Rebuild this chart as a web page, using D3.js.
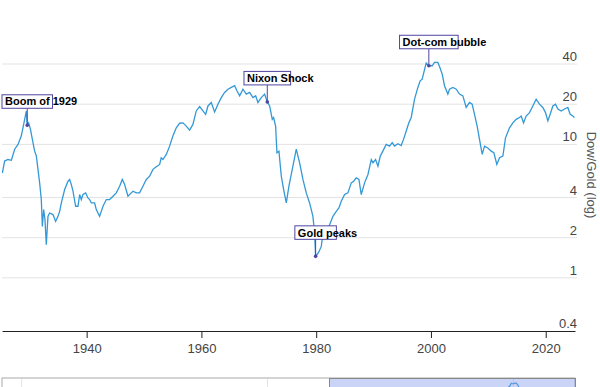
<!DOCTYPE html>
<html>
<head>
<meta charset="utf-8">
<script src="https://cdn.jsdelivr.net/npm/d3@7/dist/d3.min.js"></script>
<style>
body { margin: 0; background: #fff; }
svg { display: block; font-family: "Liberation Sans", Arial, sans-serif; }
.grid line { stroke: #e3e3e3; stroke-width: 1; }
.yLabel { font-size: 13px; fill: #444; }
.xAxis text { font-size: 13px; fill: #444; }
.xAxis path, .xAxis line { stroke: #222; }
.annotation text { font-size: 11px; font-weight: bold; fill: #000; }
.brush .selection { fill: #7b93ea; fill-opacity: 0.4; stroke: #888; }
</style>
</head>
<body>
<div class="chartContainer"></div>
<script>
// Dow / Gold ratio
var years = [1925.31, 1925.71, 1926.3, 1926.88, 1927.46, 1928.04, 1928.62, 1929.2, 1929.5, 1929.65,
  1929.9, 1930.2, 1930.65, 1930.94, 1931.23, 1931.52, 1931.81, 1932.1, 1932.28, 1932.51,
  1932.74, 1932.97, 1933.26, 1933.55, 1934.13, 1934.6, 1935.0, 1935.3, 1935.59, 1936.17,
  1936.75, 1937.04, 1937.33, 1937.62, 1938.08, 1938.49, 1938.78, 1939.07, 1939.36, 1939.83,
  1940.23, 1940.52, 1940.81, 1941.39, 1941.68, 1942.26, 1942.85, 1943.43, 1944.0, 1944.59,
  1945.17, 1945.75, 1946.21, 1946.62, 1947.2, 1947.78, 1948.07, 1948.65, 1949.23, 1949.81,
  1950.39, 1950.98, 1951.56, 1952.14, 1952.72, 1953.0, 1953.3, 1953.88, 1954.46, 1955.04,
  1955.62, 1956.2, 1956.78, 1957.36, 1957.94, 1958.52, 1959.1, 1959.69, 1960.27, 1960.74,
  1961.14, 1961.72, 1962.3, 1962.88, 1963.46, 1964.04, 1964.63, 1965.21, 1965.79, 1966.19,
  1966.66, 1967.24, 1967.82, 1968.4, 1968.98, 1969.45, 1969.85, 1970.43, 1971.01, 1971.48,
  1971.89, 1972.35, 1972.58, 1972.93, 1973.16, 1973.51, 1973.92, 1974.33, 1974.79, 1975.25,
  1975.83, 1976.53, 1977.11, 1977.69, 1978.27, 1978.85, 1979.43, 1979.72, 1979.9, 1980.13,
  1980.48, 1980.89, 1981.18, 1981.76, 1982.34, 1982.92, 1983.5, 1983.96, 1984.37, 1984.95,
  1985.53, 1986.11, 1986.52, 1986.98, 1987.45, 1987.85, 1988.43, 1989.02, 1989.6, 1989.89,
  1990.35, 1990.76, 1991.17, 1991.62, 1992.2, 1992.78, 1993.25, 1993.65, 1994.23, 1994.81,
  1995.22, 1995.69, 1996.15, 1996.56, 1997.14, 1997.72, 1998.12, 1998.47, 1998.76, 1999.17,
  1999.63, 2000.22, 2000.62, 2001.2, 2001.49, 2001.96, 2002.36, 2002.94, 2003.23, 2003.82,
  2004.4, 2004.98, 2005.56, 2006.14, 2006.72, 2007.18, 2007.59, 2008.05, 2008.46, 2008.93,
  2009.33, 2009.91, 2010.49, 2010.96, 2011.48, 2011.95, 2012.53, 2012.99, 2013.69, 2014.27,
  2014.85, 2015.43, 2015.72, 2016.13, 2016.59, 2017.17, 2017.75, 2018.33, 2018.91, 2019.49,
  2019.96, 2020.37, 2020.77, 2021.24, 2021.7, 2022.11, 2022.69, 2023.27, 2023.85, 2024.26,
  2024.72, 2025.0];
var ratio = [6.1, 7.5, 7.7, 7.6, 9.2, 10.0, 11.6, 15.4, 17.8, 13.9,
  14.5, 13.0, 10.3, 8.9, 8.2, 6.5, 5.15, 3.86, 2.43, 3.25,
  2.73, 1.77, 2.89, 3.06, 2.98, 2.65, 2.89, 3.15, 3.64, 4.59,
  5.3, 5.46, 5.0, 4.46, 3.44, 3.44, 4.21, 3.86, 4.21, 4.33,
  3.97, 3.86, 3.64, 3.64, 3.25, 2.89, 3.44, 3.86, 3.86, 4.09,
  4.33, 4.86, 5.46, 5.0, 4.09, 4.33, 4.46, 4.33, 4.33, 4.86,
  5.46, 5.78, 6.5, 6.8, 7.07, 7.94, 7.7, 8.41, 9.7, 11.6,
  13.3, 14.4, 14.5, 13.7, 12.8, 14.1, 17.8, 19.2, 17.8, 16.8,
  19.4, 20.6, 17.5, 20.0, 22.4, 24.5, 25.9, 26.7, 27.5, 25.2,
  23.1, 25.9, 23.8, 24.5, 22.4, 23.1, 20.6, 22.4, 23.8, 20.8,
  19.4, 15.4, 15.9, 13.7, 8.66, 8.9, 5.78, 4.59, 3.64, 4.86,
  6.5, 9.2, 7.28, 5.46, 4.33, 3.64, 2.89, 2.17, 1.45, 1.49,
  1.57, 1.72, 2.17, 2.17, 2.5, 2.89, 3.15, 3.34, 3.75, 4.21,
  4.33, 5.15, 5.3, 5.62, 5.46, 4.21, 5.15, 5.95, 7.7, 7.28,
  7.7, 6.87, 8.17, 8.9, 10.0, 9.7, 10.3, 9.7, 10.1, 9.8,
  10.9, 12.6, 14.5, 15.9, 21.8, 26.7, 29.9, 30.8, 34.6, 40.6,
  38.8, 38.8, 41.1, 41.1, 38.3, 33.6, 27.5, 23.8, 25.9, 26.7,
  25.9, 23.8, 23.1, 18.9, 20.6, 20.0, 16.8, 13.7, 10.9, 8.41,
  9.7, 9.4, 8.9, 8.66, 7.07, 7.94, 8.17, 11.2, 13.3, 14.5,
  15.4, 15.9, 16.3, 14.5, 16.3, 17.3, 19.4, 21.8, 20.0, 18.9,
  17.3, 15.0, 16.8, 19.4, 20.0, 18.4, 17.8, 18.4, 18.9, 16.8,
  16.3, 15.9];

var yTicks = [0.4, 1, 2, 4, 10, 20, 40];
var xTicks = [1940, 1960, 1980, 2000, 2020];

var annoLabels = ["Boom of 1929", "Nixon Shock", "Gold peaks", "Dot-com bubble"];
var annoYears = [1929.65, 1971.48, 1979.9, 1999.63];
var annoValues = [13.9, 20.8, 1.45, 38.8];

var viewYears = [1925.25, 2025.1];     // brushed window
var contextYears = [1792, 2025.1];     // full overview range
var contextGrid = [1800, 1900, 2000];

var width = 600;
var height = 387;
var left = 2, right = 575;
var data = years.map(function(d, i){ return {year: d, value: ratio[i]}; });

var svg = d3.select(".chartContainer")
  .append("svg")
    .attr("width", width)
    .attr("height", height);

// ======= scales ========

var x2 = d3.scaleLinear().domain(contextYears).range([left, right]);
var x = d3.scaleLinear().domain(viewYears).range([left, right]);
var y = d3.scaleLog().domain([0.4, 40]).range([331, 64]);

svg.append("defs").append("clipPath").attr("id", "clip")
  .append("rect").attr("x", left).attr("y", 0).attr("width", right - left).attr("height", 331);

// ======= grid + y labels ========

var grid = svg.append("g").attr("class", "grid");
grid.selectAll("line")
    .data(yTicks.slice(1))
  .enter().append("line")
    .attr("x1", left).attr("x2", 577)
    .attr("y1", function(d){ return y(d); })
    .attr("y2", function(d){ return y(d); });

svg.append("g").selectAll(".yLabel")
    .data(yTicks)
  .enter().append("text")
    .attr("class", "yLabel")
    .attr("x", 577)
    .attr("y", function(d){ return y(d) - 3; })
    .attr("text-anchor", "end")
    .text(function(d){ return d; });

svg.append("text")
    .attr("transform", "translate(587,175) rotate(90)")
    .attr("text-anchor", "middle")
    .style("font-size", "13px")
    .style("fill", "#555")
    .text("Dow/Gold (log)");

// ======= x axis ========

svg.append("g")
    .attr("class", "xAxis")
    .attr("transform", "translate(0,331)")
    .call(d3.axisBottom(x).tickValues(xTicks).tickFormat(d3.format("d"))
      .tickSize(7).tickSizeOuter(0).tickPadding(6));

// ======= line ========

var line = d3.line()
    .x(function(d){ return x(d.year); })
    .y(function(d){ return y(d.value); });

svg.append("path")
    .datum(data)
    .attr("clip-path", "url(#clip)")
    .attr("d", line)
    .style("fill", "none")
    .style("stroke", "#3399d6")
    .style("stroke-width", 1.3);

// ======= annotations ========

var annos = svg.selectAll(".annotation")
    .data(annoLabels)
  .enter().append("g")
    .attr("class", "annotation")
    .attr("transform", function(d, i){
      return "translate(" + x(annoYears[i]) + "," + y(annoValues[i]) + ")";
    });

annos.append("line")
    .attr("x1", 0).attr("y1", 0)
    .attr("x2", 0).attr("y2", -17)
    .style("stroke", "#4f46a0");

annos.append("circle")
    .attr("r", 1.8)
    .style("fill", "#4f46a0");

annos.each(function(d){
  var g = d3.select(this);
  var box = g.append("rect");
  var t = g.append("text").text(d);
  var w = t.node().getComputedTextLength() * 0.7;
  box.attr("x", -w / 2).attr("y", -30.5)
    .attr("width", w).attr("height", 13.5)
    .style("fill", "#fff")
    .style("stroke", "#4f46a0");
  t.attr("x", -w / 2 + 3).attr("y", -19.8);
});

// ======= context + brush ========

var contextH = 60;
var y2 = d3.scaleLog().domain([0.4, 45]).range([contextH, 4]);

var context = svg.append("g").attr("class", "context").attr("transform", "translate(0,378)");

context.append("rect")
    .attr("x", left).attr("y", 0)
    .attr("width", right - left).attr("height", contextH)
    .style("fill", "none")
    .style("stroke", "#aaa");

context.selectAll(".cgrid")
    .data(contextGrid)
  .enter().append("line")
    .attr("class", "cgrid")
    .attr("x1", function(d){ return x2(d); })
    .attr("x2", function(d){ return x2(d); })
    .attr("y1", 1).attr("y2", contextH)
    .style("stroke", "#e3e3e3");

context.append("path")
    .datum(data)
    .attr("d", d3.line()
      .x(function(d){ return x2(d.year); })
      .y(function(d){ return y2(d.value); }))
    .style("fill", "none")
    .style("stroke", "#3399d6")
    .style("stroke-width", 1.2);

var brush = d3.brushX().extent([[left, 0], [right, contextH]]);

context.append("g")
    .attr("class", "brush")
    .call(brush)
    .call(brush.move, viewYears.map(x2));
</script>
</body>
</html>
